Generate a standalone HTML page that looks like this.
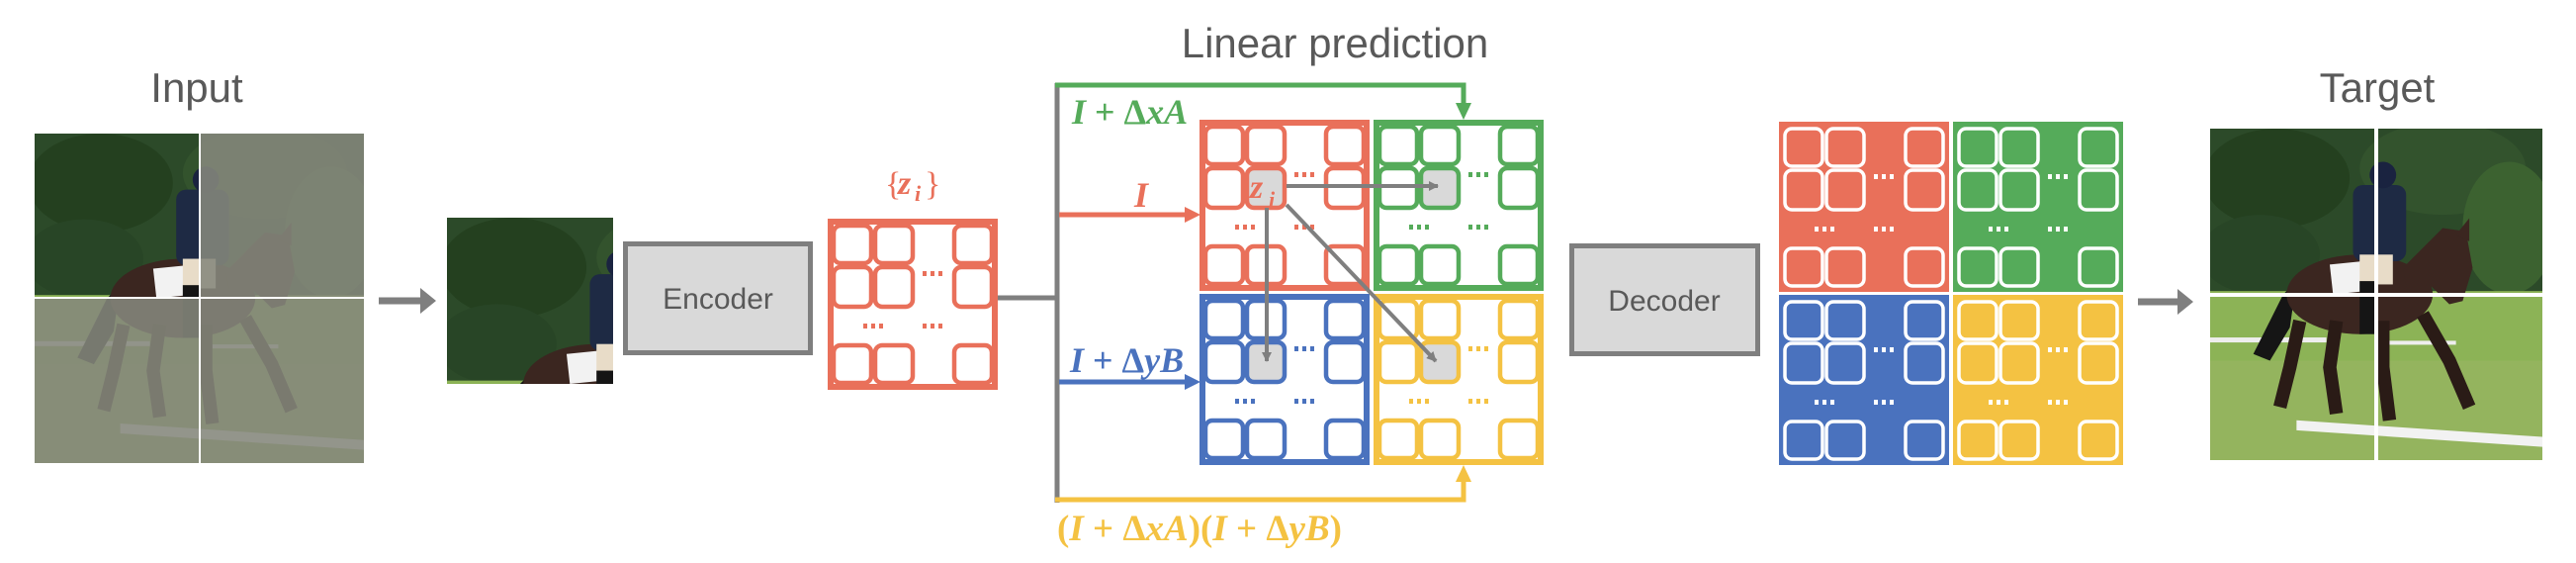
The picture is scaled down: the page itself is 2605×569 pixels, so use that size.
<!DOCTYPE html>
<html><head><meta charset="utf-8"><style>
html,body{margin:0;padding:0;background:#fff;}
body{width:2605px;height:569px;overflow:hidden;}
svg{display:block}
.t{font-family:"Liberation Sans",sans-serif;fill:#595959}
.m{font-family:"Liberation Serif",serif;font-weight:bold;font-style:italic}
</style></head><body>
<svg width="2605" height="569" viewBox="0 0 2605 569" xmlns="http://www.w3.org/2000/svg">
<defs>
  <g id="photo">
    <rect x="0" y="0" width="100" height="100" fill="#2c4a29"/>
    <ellipse cx="20" cy="15" rx="22" ry="15" fill="#24401f"/>
    <ellipse cx="70" cy="12" rx="25" ry="14" fill="#33532d"/>
    <ellipse cx="90" cy="30" rx="14" ry="20" fill="#3c6230"/>
    <ellipse cx="15" cy="38" rx="18" ry="12" fill="#284526"/>
    <rect x="0" y="49" width="100" height="51" fill="#8cb356"/>
    <rect x="0" y="70" width="100" height="30" fill="#94b45e"/>
    <rect x="0" y="63" width="35" height="1.5" fill="#eee"/>
    <rect x="50" y="64" width="24" height="1.2" fill="#eee"/>
    <polygon points="26,88 100,93 100,96 26,91" fill="#f2f2f2"/>
    <polygon points="13,68 22,50 26,46 24,60 18,70" fill="#151515"/>
    <ellipse cx="45" cy="50" rx="22" ry="12" fill="#3b2620"/>
    <polygon points="58,42 70,30 77,31 79,42 76,52 72,53 66,47 60,52" fill="#3b2620"/>
    <polygon points="74,32 78,27 78,34" fill="#3b2620"/>
    <polyline points="27,58 24,72 21,84" stroke="#2a1b16" stroke-width="4" fill="none"/>
    <polyline points="38,58 36,72 38,86" stroke="#2a1b16" stroke-width="4" fill="none"/>
    <polyline points="52,58 52,72 54,88" stroke="#2a1b16" stroke-width="4" fill="none"/>
    <polyline points="64,56 72,70 78,84" stroke="#2a1b16" stroke-width="4" fill="none"/>
    <polygon points="36,41 46,40 47,49 37,50" fill="#f2f2f2"/>
    <rect x="43" y="17" width="16" height="23" rx="3" fill="#1e2a44"/>
    <rect x="45" y="38" width="10" height="9" fill="#e8dcc8"/>
    <rect x="45" y="46" width="5" height="16" fill="#151515"/>
    <circle cx="52" cy="14" r="4" fill="#1a2340"/>
  </g>
  <g id="cells">
    <rect x="6" y="7" width="38" height="38" rx="7"/>
    <rect x="48" y="7" width="38" height="38" rx="7"/>
    <rect x="128" y="7" width="38" height="38" rx="7"/>
    <rect x="6" y="49" width="38" height="40" rx="7"/>
    <rect x="48" y="49" width="38" height="40" rx="7"/>
    <rect x="128" y="49" width="38" height="40" rx="7"/>
    <rect x="6" y="128" width="38" height="38" rx="7"/>
    <rect x="48" y="128" width="38" height="38" rx="7"/>
    <rect x="128" y="128" width="38" height="38" rx="7"/>
  </g>
  <g id="dots" stroke="none">
    <rect x="96" y="53" width="4" height="5"/><rect x="104" y="53" width="4" height="5"/><rect x="112" y="53" width="4" height="5"/>
    <rect x="36" y="106" width="4" height="5"/><rect x="44" y="106" width="4" height="5"/><rect x="52" y="106" width="4" height="5"/>
    <rect x="96" y="106" width="4" height="5"/><rect x="104" y="106" width="4" height="5"/><rect x="112" y="106" width="4" height="5"/>
  </g>
  <g id="ogrid">
    <rect x="3" y="3" width="166" height="167" fill="#fff" stroke="currentColor" stroke-width="6"/>
    <use href="#cells" fill="none" stroke="currentColor" stroke-width="4.5"/>
    <use href="#dots" fill="currentColor"/>
  </g>
  <g id="ograyed">
    <rect x="3" y="3" width="166" height="167" fill="#fff" stroke="currentColor" stroke-width="6"/>
    <rect x="48" y="49" width="38" height="40" rx="7" fill="#d9d9d9"/>
    <use href="#cells" fill="none" stroke="currentColor" stroke-width="4.5"/>
    <use href="#dots" fill="currentColor"/>
  </g>
  <g id="fgrid">
    <rect x="0" y="0" width="172" height="172" fill="currentColor"/>
    <use href="#cells" fill="none" stroke="#fff" stroke-width="3.5"/>
    <use href="#dots" fill="#fff"/>
  </g>
  <marker id="ag" markerWidth="10" markerHeight="10" refX="9" refY="5" orient="auto" markerUnits="userSpaceOnUse" viewBox="0 0 10 10"><path d="M0,0 L10,5 L0,10z" fill="#7f7f7f"/></marker>
</defs>

<text class="t" x="199" y="103" font-size="42" text-anchor="middle">Input</text>
<text class="t" x="1350" y="58" font-size="42" text-anchor="middle">Linear prediction</text>
<text class="t" x="2404" y="103" font-size="42" text-anchor="middle">Target</text>

<svg x="35" y="135" width="333" height="333" viewBox="0 0 100 100" preserveAspectRatio="none"><use href="#photo"/>
  <rect x="50" y="0" width="50" height="100" fill="#85877c" opacity="0.88"/>
  <rect x="0" y="50" width="50" height="50" fill="#85877c" opacity="0.88"/>
</svg>
<rect x="201" y="135" width="2" height="333" fill="#fff"/>
<rect x="35" y="300" width="333" height="2" fill="#fff"/>

<line x1="383" y1="304" x2="428" y2="304" stroke="#7f7f7f" stroke-width="7"/>
<path d="M425,291 L441,304 L425,317z" fill="#7f7f7f"/>

<svg x="452" y="220" width="168" height="168" viewBox="0 0 50 50" preserveAspectRatio="none"><use href="#photo"/></svg>

<rect x="632.5" y="246.5" width="187" height="110" fill="#d9d9d9" stroke="#7f7f7f" stroke-width="5"/>
<text class="t" x="726" y="312" font-size="30" text-anchor="middle">Encoder</text>

<text x="895" y="197" font-size="34" fill="#e9705a" font-family="Liberation Serif">{</text>
<text class="m" x="908" y="196" font-size="34" fill="#e9705a">z</text>
<text class="m" x="925" y="203" font-size="22" fill="#e9705a">i</text>
<text x="935" y="197" font-size="34" fill="#e9705a" font-family="Liberation Serif">}</text>
<use href="#ogrid" x="837" y="221" color="#e9705a"/>

<line x1="1009" y1="301" x2="1069" y2="301" stroke="#7f7f7f" stroke-width="5"/>
<line x1="1069" y1="84" x2="1069" y2="508" stroke="#7f7f7f" stroke-width="5"/>

<polyline points="1067,86 1480,86 1480,106" fill="none" stroke="#55ab5a" stroke-width="5"/>
<path d="M1472,104 L1488,104 L1480,121z" fill="#55ab5a"/>
<text x="1084" y="125" font-size="36" fill="#55ab5a"><tspan class="m">I</tspan><tspan font-family="Liberation Serif" font-weight="bold"> + Δ</tspan><tspan class="m">xA</tspan></text>
<line x1="1071" y1="217" x2="1200" y2="217" stroke="#e9705a" stroke-width="5"/>
<path d="M1198,209 L1214,217 L1198,225z" fill="#e9705a"/>
<text class="m" x="1147" y="209" font-size="36" fill="#e9705a">I</text>
<line x1="1071" y1="386" x2="1200" y2="386" stroke="#4a72be" stroke-width="5"/>
<path d="M1198,378 L1214,386 L1198,394z" fill="#4a72be"/>
<text x="1082" y="376" font-size="36" fill="#4a72be"><tspan class="m">I</tspan><tspan font-family="Liberation Serif" font-weight="bold"> + Δ</tspan><tspan class="m">yB</tspan></text>
<polyline points="1067,505 1480,505 1480,485" fill="none" stroke="#f4c242" stroke-width="5"/>
<path d="M1472,487 L1488,487 L1480,470z" fill="#f4c242"/>
<text x="1069" y="546" font-size="37" fill="#f4c242" font-family="Liberation Serif" font-weight="bold">(<tspan class="m">I</tspan> + Δ<tspan class="m">xA</tspan>)(<tspan class="m">I</tspan> + Δ<tspan class="m">yB</tspan>)</text>

<use href="#ograyed" x="1213" y="121" color="#e9705a"/>
<use href="#ograyed" x="1389" y="121" color="#55ab5a"/>
<use href="#ograyed" x="1213" y="297" color="#4a72be"/>
<use href="#ograyed" x="1389" y="297" color="#f4c242"/>
<text class="m" x="1264" y="200" font-size="34" fill="#e9705a">z</text>
<text class="m" x="1283" y="209" font-size="22" fill="#e9705a">i</text>

<line x1="1301" y1="188" x2="1454" y2="188" stroke="#7f7f7f" stroke-width="4" marker-end="url(#ag)"/>
<line x1="1281" y1="210" x2="1281" y2="365" stroke="#7f7f7f" stroke-width="4" marker-end="url(#ag)"/>
<line x1="1301" y1="207" x2="1452" y2="365" stroke="#7f7f7f" stroke-width="4" marker-end="url(#ag)"/>

<rect x="1589.5" y="248.5" width="188" height="109" fill="#d9d9d9" stroke="#7f7f7f" stroke-width="5"/>
<text class="t" x="1683" y="314" font-size="30" text-anchor="middle">Decoder</text>

<use href="#fgrid" x="1799" y="123" color="#e9705a"/>
<use href="#fgrid" x="1975" y="123" color="#55ab5a"/>
<use href="#fgrid" x="1799" y="298" color="#4a72be"/>
<use href="#fgrid" x="1975" y="298" color="#f4c242"/>

<line x1="2162" y1="305" x2="2204" y2="305" stroke="#7f7f7f" stroke-width="7"/>
<path d="M2202,292 L2218,305 L2202,318z" fill="#7f7f7f"/>

<svg x="2235" y="130" width="336" height="335" viewBox="0 0 100 100" preserveAspectRatio="none"><use href="#photo"/></svg>
<rect x="2401" y="130" width="4" height="335" fill="#fff"/>
<rect x="2235" y="296" width="336" height="4" fill="#fff"/>
</svg>
</body></html>
